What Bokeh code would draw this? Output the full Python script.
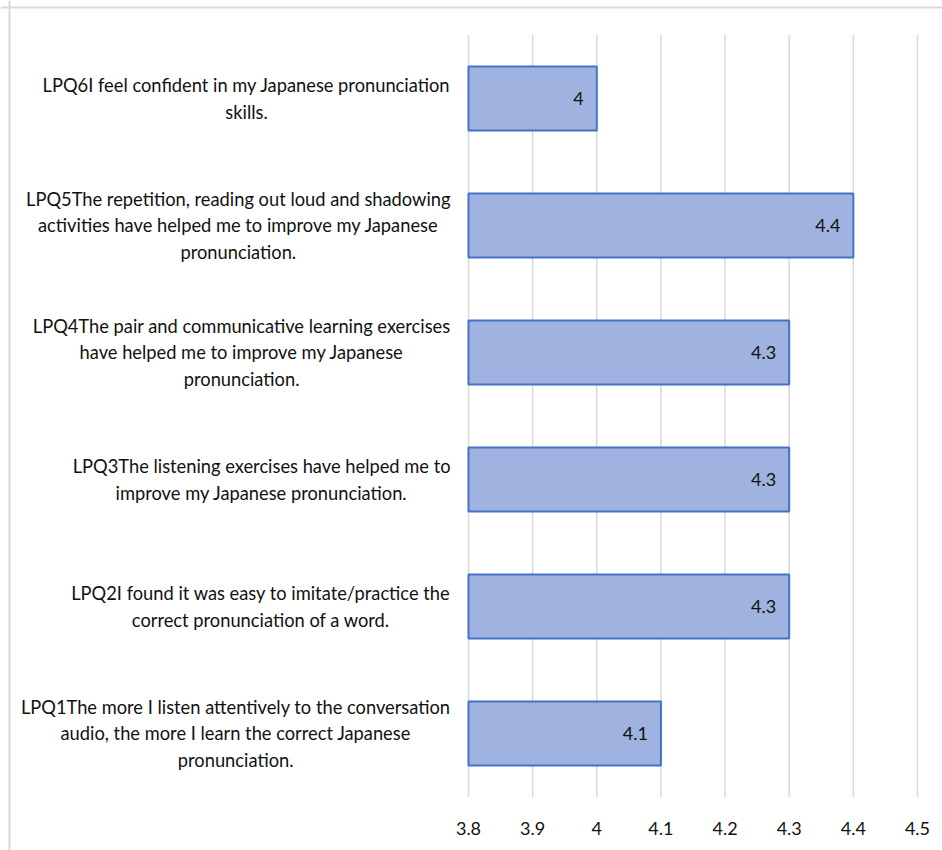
from bokeh.plotting import figure
from bokeh.models import ColumnDataSource, Range1d, Span
from bokeh.core.properties import value
from bokeh.embed import file_html
from bokeh.resources import INLINE

# ---- data ----
categories = [
    "LPQ1The more I listen attentively to the conversation\naudio, the more I learn the correct Japanese\npronunciation.",
    "LPQ2I found it was easy to imitate/practice the\ncorrect pronunciation of a word.",
    "LPQ3The listening exercises have helped me to\nimprove my Japanese pronunciation.",
    "LPQ4The pair and communicative learning exercises\nhave helped me to improve my Japanese\npronunciation.",
    "LPQ5The repetition, reading out loud and shadowing\nactivities have helped me to improve my Japanese\npronunciation.",
    "LPQ6I feel confident in my Japanese pronunciation\nskills.",
]
values = [4.1, 4.3, 4.3, 4.3, 4.4, 4.0]
x_ticks = [3.8, 3.9, 4.0, 4.1, 4.2, 4.3, 4.4, 4.5]
x_tick_labels = ["3.8", "3.9", "4", "4.1", "4.2", "4.3", "4.4", "4.5"]

# ---- layout constants (screen geometry) ----
W, H = 942, 850
AXIS_MIN = 3.8
PX_PER_UNIT_X = 641.4        # pixels per 1.0 on the value axis
X0_PX = 468                  # screen x of 3.8
PX_PER_CAT = 127.0           # pixels per category band
CAT_BOTTOM_PX = 796.5        # screen y of bottom of first band

x_start = AXIS_MIN - X0_PX / PX_PER_UNIT_X
x_end = AXIS_MIN + (W - X0_PX) / PX_PER_UNIT_X
y_start = -0.5 - (H - CAT_BOTTOM_PX) / PX_PER_CAT
y_end = -0.5 + CAT_BOTTOM_PX / PX_PER_CAT

n = len(categories)
idx = list(range(n))
FONT = value("Lato")
TEXT_COLOR = "#111111"

p = figure(width=W, height=H, output_backend="svg", toolbar_location=None,
           x_range=Range1d(x_start, x_end), y_range=Range1d(y_start, y_end),
           min_border=0, min_border_left=0, min_border_right=0,
           min_border_top=0, min_border_bottom=0)
p.axis.visible = False
p.grid.visible = False
p.outline_line_color = None
p.background_fill_color = "white"
p.border_fill_color = "white"

# outer chart-area border (left and top visible)
p.add_layout(Span(location=x_start + 9 / PX_PER_UNIT_X, dimension="height",
                  line_color="#d9d9d9", line_width=2))
p.add_layout(Span(location=y_end - 7 / PX_PER_CAT, dimension="width",
                  line_color="#d9d9d9", line_width=2))

# vertical gridlines from tick values
grid_src = ColumnDataSource(dict(x=x_ticks, y0=[-0.5] * len(x_ticks),
                                 y1=[n - 0.5] * len(x_ticks), lab=x_tick_labels))
p.segment(x0="x", y0="y0", x1="x", y1="y1", source=grid_src,
          line_color="#d9d9d9", line_width=1.5)

# bars
src = ColumnDataSource(dict(y=idx, v=values, cat=categories,
                            vlab=[f"{v:g}" for v in values]))
p.hbar(y="y", left=AXIS_MIN, right="v", height=0.505, source=src,
       fill_color="#a0b2df", line_color="#4472c4", line_width=2)

# value labels inside bar ends
p.text(x="v", y="y", text="vlab", source=src, x_offset=-13,
       text_align="right", text_baseline="middle", text_font=FONT,
       text_font_size="18px", text_color=TEXT_COLOR)

# category labels (right-aligned block, centred lines)
p.text(x=AXIS_MIN - 18 / PX_PER_UNIT_X, y="y", text="cat", source=src,
       anchor="center_right", text_align="center", text_baseline="middle",
       text_font=FONT, text_font_size="18.3px", text_line_height=1.2,
       text_color=TEXT_COLOR)

# x tick labels
tick_y = -0.5 - (828 - CAT_BOTTOM_PX) / PX_PER_CAT
p.text(x="x", y=tick_y, text="lab", source=grid_src, text_align="center",
       text_baseline="middle", text_font=FONT, text_font_size="18px",
       text_color=TEXT_COLOR)

open("out.html", "w").write(file_html(p, INLINE))
